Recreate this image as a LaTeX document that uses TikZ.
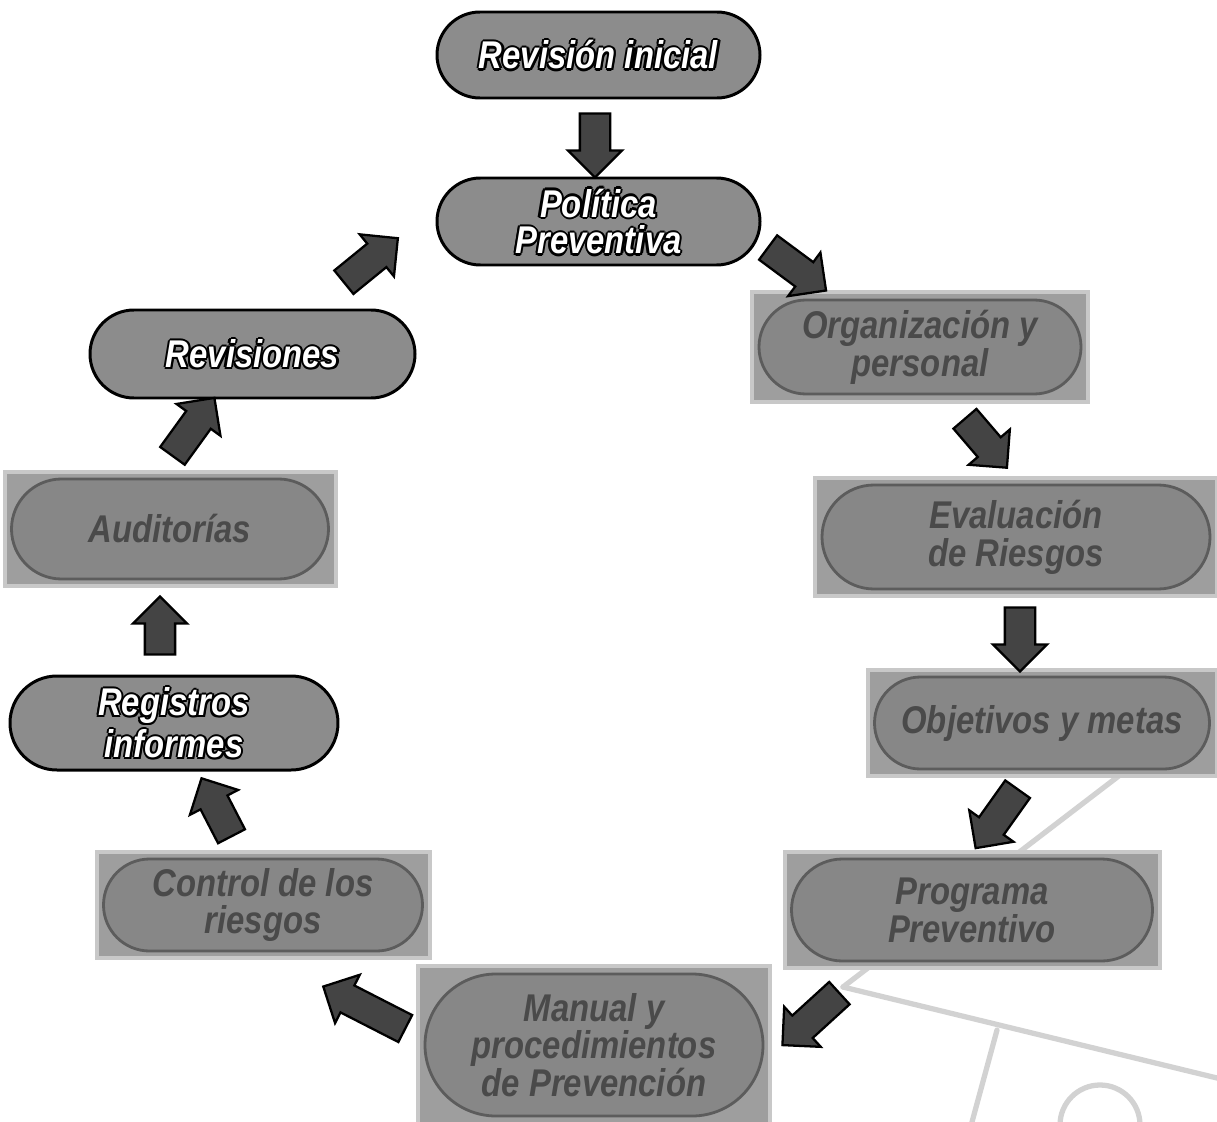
\documentclass[tikz,border=0pt]{standalone}
\usepackage{fontspec}
\setmainfont{Liberation Sans}
\newfontface\pf{Liberation Sans Bold Italic}[FakeStretch=0.85]
\usetikzlibrary{shapes.misc,shapes.arrows,calc}
\definecolor{hatch}{HTML}{8C8C8C}
\definecolor{arrfill}{HTML}{444444}
\definecolor{bgbox}{HTML}{9E9E9E}
\definecolor{bgedge}{HTML}{C8C8C8}
\definecolor{pillfill}{HTML}{878787}
\definecolor{pilledge}{HTML}{5C5C5C}
\definecolor{blurtext}{HTML}{4A4A4A}
\definecolor{sketch}{HTML}{D2D2D2}
% white letters with a black outline
\newcommand\olt[1]{\leavevmode\setbox0\hbox{#1}%
 \rlap{\color{black}\kern1.2pt\copy0}%
 \rlap{\color{black}\kern-1.2pt\copy0}%
 \rlap{\color{black}\raise1.2pt\copy0}%
 \rlap{\color{black}\lower1.2pt\copy0}%
 \rlap{\color{black}\kern0.85pt\raise0.85pt\copy0}%
 \rlap{\color{black}\kern-0.85pt\raise0.85pt\copy0}%
 \rlap{\color{black}\kern0.85pt\lower0.85pt\copy0}%
 \rlap{\color{black}\kern-0.85pt\lower0.85pt\copy0}%
 {\color{white}\box0}}
\tikzset{
 hpill/.style={rounded rectangle, draw=black, line width=1.7pt, fill=hatch,
   inner sep=0pt, font=\pf\fontsize{22}{21}\selectfont, align=center},
 bpill/.style={rounded rectangle, draw=pilledge, line width=1.6pt, fill=pillfill,
   text=blurtext, inner sep=0pt, font=\pf\fontsize{22}{21.5}\selectfont, align=center},
 bgrect/.style={fill=bgbox, draw=bgedge, line width=2.5pt},
 barrow/.style={single arrow, draw=black, line width=1.3pt, fill=arrfill,
   inner xsep=0pt, inner ysep=0.28cm, single arrow head extend=0.24cm,
   minimum width=0pt, single arrow tip angle=90},
 sk/.style={draw=sketch, line width=3pt, line cap=round},
}
\newcommand\barr[3]{%
 \path let \p1=($(#3)-(#2)$), \n1={veclen(\x1,\y1)} in
  (#2) -- (#3) node[barrow, midway, sloped, allow upside down, minimum height=\n1] (#1) {};}
\begin{document}
\begin{tikzpicture}[x=0.02cm, y=-0.02cm]
\useasboundingbox (0,0) rectangle (1217,1122);
% faint background sketch
\draw[sk] (843,987) -- (1120,775);
\draw[sk] (843,987) -- (1217,1078);
\draw[sk] (997,1030) -- (972,1122);
\draw[sk] (1060,1125) arc[start angle=180, end angle=360, radius=40];
% hatched pills
\node[hpill, minimum width={323*0.02cm}, minimum height={86*0.02cm}] (ini) at (598.5,55) {\olt{Revisión inicial}};
\node[hpill, minimum width={323*0.02cm}, minimum height={87*0.02cm}] (pol) at (598.5,221.5) {\olt{Política}\\\olt{Preventiva}};
\node[hpill, minimum width={325*0.02cm}, minimum height={88*0.02cm}] (rev) at (252.5,354) {\olt{Revisiones}};
\node[hpill, minimum width={328*0.02cm}, minimum height={94*0.02cm}] (reg) at (174,723) {\olt{Registros}\\\olt{informes}};
% blurred boxes
\filldraw[bgrect] (752,292) rectangle (1088,402);
\node[bpill, minimum width={322*0.02cm}, minimum height={94*0.02cm}] (org) at (920,347) {Organización y\\personal};
\filldraw[bgrect] (815,478) rectangle (1217,596);
\node[bpill, minimum width={388*0.02cm}, minimum height={104*0.02cm}] (eva) at (1016,537) {Evaluación\\de Riesgos};
\filldraw[bgrect] (868,670) rectangle (1217,776);
\node[bpill, minimum width={335*0.02cm}, minimum height={92*0.02cm}] (obj) at (1042,723) {Objetivos y metas};
\filldraw[bgrect] (785,852) rectangle (1160,968);
\node[bpill, minimum width={361*0.02cm}, minimum height={102*0.02cm}] (prog) at (972,910) {Programa\\Preventivo};
\filldraw[bgrect] (418,966) rectangle (770,1125);
\node[bpill, minimum width={338*0.02cm}, minimum height={142*0.02cm}] (man) at (594,1045) {Manual y\\procedimientos\\de Prevención};
\filldraw[bgrect] (97,852) rectangle (430,958);
\node[bpill, minimum width={319*0.02cm}, minimum height={92*0.02cm}] (con) at (263,905) {Control de los\\riesgos};
\filldraw[bgrect] (5,472) rectangle (336,586);
\node[bpill, minimum width={317*0.02cm}, minimum height={100*0.02cm}] (aud) at (170,529) {Auditorías};
% arrow end points
\coordinate (t1) at (595,106);  \coordinate (h1) at (595,170);
\coordinate (t2) at (762,243);  \coordinate (h2) at (820,286);
\coordinate (t3) at (960,413);  \coordinate (h3) at (1002,462);
\coordinate (t4) at (1020,600); \coordinate (h4) at (1020,664);
\coordinate (t5) at (1022,783); \coordinate (h5) at (980,842);
\coordinate (t6) at (845,988);  \coordinate (h6) at (788,1040);
\coordinate (t7) at (412,1032); \coordinate (h7) at (330,990);
\coordinate (t8) at (235,843);  \coordinate (h8) at (205,785);
\coordinate (t9) at (160,662);  \coordinate (h9) at (160,604);
\coordinate (t10) at (168,462); \coordinate (h10) at (210,404);
\coordinate (t11) at (338,287); \coordinate (h11) at (392,243);
\barr{a1}{t1}{h1}
\barr{a2}{t2}{h2}
\barr{a3}{t3}{h3}
\barr{a4}{t4}{h4}
\barr{a5}{t5}{h5}
\barr{a6}{t6}{h6}
\barr{a7}{t7}{h7}
\barr{a8}{t8}{h8}
\barr{a9}{t9}{h9}
\barr{a10}{t10}{h10}
\barr{a11}{t11}{h11}
\end{tikzpicture}
\end{document}
